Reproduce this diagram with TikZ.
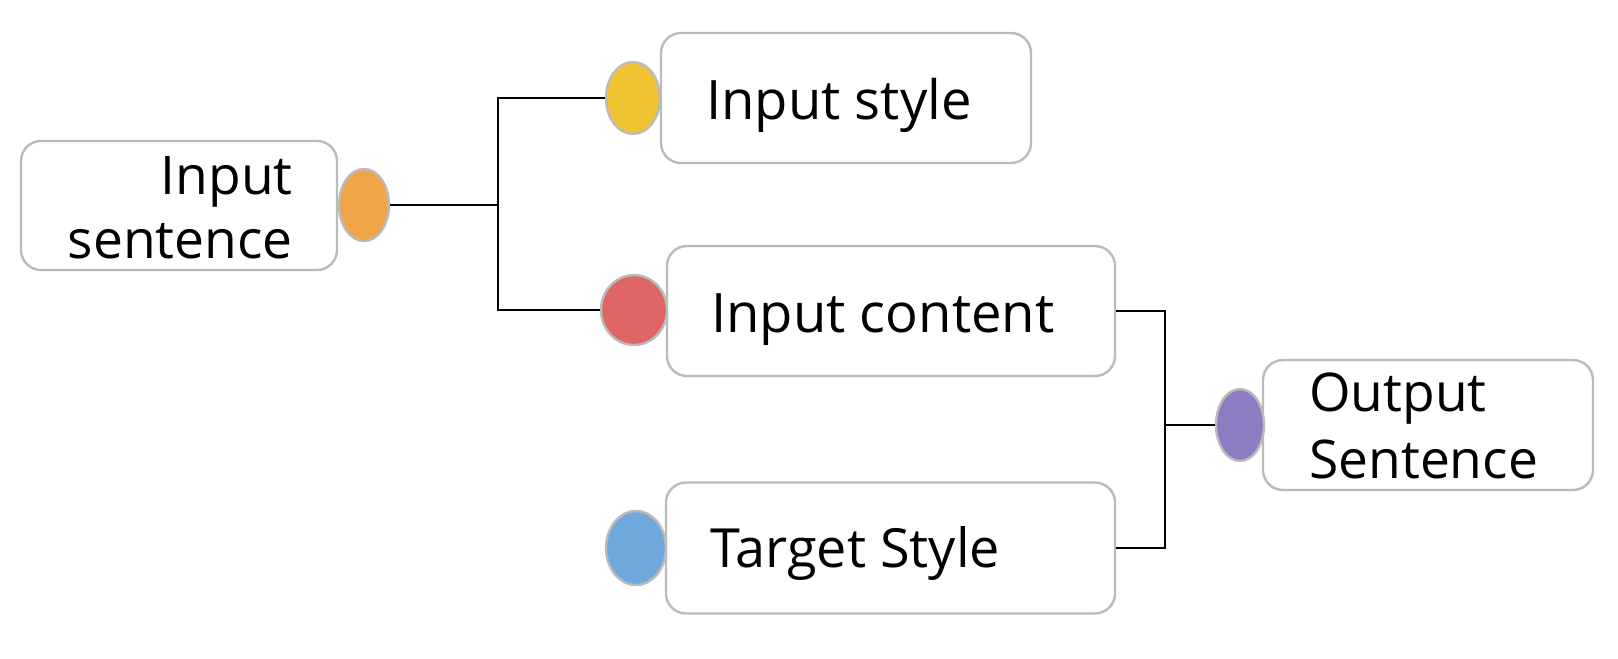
\documentclass[tikz,border=0pt]{standalone}
\usepackage{fontspec}
\setmainfont{Open Sans}
\usetikzlibrary{shapes.geometric}
\definecolor{bordergray}{HTML}{BBBBBB}
\definecolor{corange}{HTML}{F2A548}
\definecolor{cyellow}{HTML}{F0C333}
\definecolor{cred}{HTML}{E06666}
\definecolor{cblue}{HTML}{6FA8DC}
\definecolor{cpurple}{HTML}{8E7CC3}
\begin{document}
\begin{tikzpicture}[x=0.75pt,y=-0.75pt,
  box/.style={draw=bordergray,line width=1.8pt,rounded corners=15pt,fill=white,inner sep=0pt},
  dot/.style={ellipse,draw=bordergray,line width=1.8pt,inner sep=0pt},
  wire/.style={line width=2pt,black},
  lbl/.style={inner sep=0pt}]
\useasboundingbox (0,0) rectangle (1618,658);
% boxes
\node[box,minimum width=316*0.75pt,minimum height=129*0.75pt] (bsent) at (179,205.5) {};
\node[box,minimum width=370*0.75pt,minimum height=130*0.75pt] (bstyle) at (846,98) {};
\node[box,minimum width=448*0.75pt,minimum height=130*0.75pt] (bcont) at (891,311) {};
\node[box,minimum width=449*0.75pt,minimum height=131*0.75pt] (btarget) at (890.5,548) {};
\node[box,minimum width=330*0.75pt,minimum height=130*0.75pt] (bout) at (1428,425) {};
% dots
\node[dot,fill=corange,minimum width=50*0.75pt,minimum height=72*0.75pt] (dsent) at (364,205) {};
\node[dot,fill=cyellow,minimum width=54*0.75pt,minimum height=72*0.75pt] (dstyle) at (633,98) {};
\node[dot,fill=cred,minimum width=66*0.75pt,minimum height=70*0.75pt] (dcont) at (634,310) {};
\node[dot,fill=cblue,minimum width=60*0.75pt,minimum height=74*0.75pt] (dtarget) at (636,548) {};
\node[dot,fill=cpurple,minimum width=48*0.75pt,minimum height=72*0.75pt] (dout) at (1240,425) {};
% labels
\node[lbl,anchor=base east,align=right,font=\fontsize{40}{48}\selectfont] (tsent) at (293,258) {Input\\sentence};
\node[lbl,anchor=base west,font=\fontsize{40.8}{50}\selectfont] (tstyle) at (706,119) {Input style};
\node[lbl,anchor=base west,font=\fontsize{40.8}{50}\selectfont] (tcont) at (711,332) {Input content};
\node[lbl,anchor=base west,font=\fontsize{40.5}{50}\selectfont] (ttarget) at (710,567) {Target Style};
\node[lbl,anchor=base west,align=left,font=\fontsize{40}{50}\selectfont] (tout) at (1309,478) {Output\\Sentence};
% junctions
\coordinate (j1) at (498,205);
\coordinate (j2) at (1165,425);
% connectors
\draw[wire] (dsent.east) -- (j1);
\draw[wire] (dstyle.west) -- (j1 |- dstyle.west) -- (j1 |- dcont.west) -- (dcont.west);
\draw[wire] (bcont.east) -- (j2 |- bcont.east) -- (j2 |- btarget.east) -- (btarget.east);
\draw[wire] (j2) -- (dout.west);
\end{tikzpicture}
\end{document}
